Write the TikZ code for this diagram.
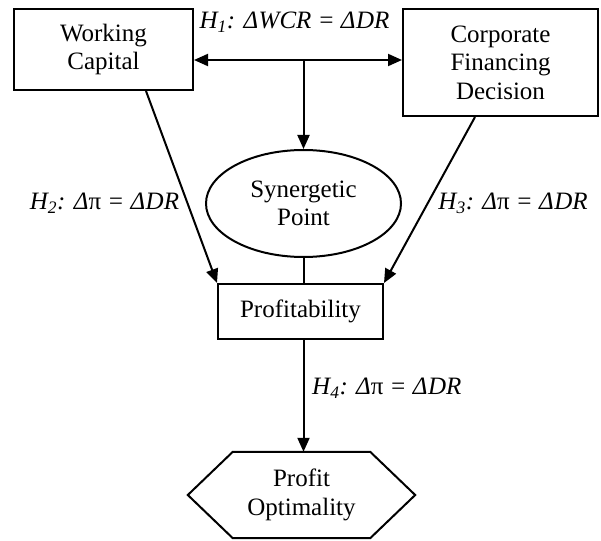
\documentclass[tikz,border=0pt]{standalone}
\usepackage{fontspec}
\setmainfont{Liberation Serif}
\newfontfamily\tnr{Liberation Serif}
\usetikzlibrary{arrows.meta,shapes.geometric,calc}
\tikzset{
  txt/.style={font=\tnr\fontsize{25}{28.5}\selectfont},
  box/.style={txt, draw, line width=2pt, inner sep=0pt, align=center},
  oval/.style={txt, ellipse, draw, line width=2pt, inner sep=0pt, align=center},
  hexbox/.style={txt, inner sep=0pt, align=center},
  hyp/.style={inner sep=0pt, font=\tnr\fontsize{25}{28.5}\selectfont\itshape},
  conn/.style={line width=2pt},
  arr/.style={conn, -{Triangle[length=14pt,width=12pt]}},
  darr/.style={conn, {Triangle[length=14pt,width=12pt]}-{Triangle[length=14pt,width=12pt]}},
}
\begin{document}
\begin{tikzpicture}[x=1pt,y=-1pt]
\useasboundingbox (0,0) rectangle (601,540);
\node[box, minimum width=179pt, minimum height=81pt] (wc) at (103.5,49.5) {Working\\Capital};
\node[box, minimum width=195pt, minimum height=107pt] (cfd) at (500.5,62.5) {Corporate\\Financing\\Decision};
\node[oval, minimum width=195pt, minimum height=107pt] (sp) at (303.5,203.5) {Synergetic\\Point};
\node[box, minimum width=165pt, minimum height=55pt] (pr) at (300.5,311.5) {Profitability};
\node[hexbox, minimum width=227pt, minimum height=86pt] (po) at (301.5,495) {Profit\\Optimality};
\draw[conn, line join=miter] (po.west) -- ($(po.north west)+(45,0)$) -- ($(po.north east)+(-45,0)$) -- (po.east)
  -- ($(po.south east)+(-45,0)$) -- ($(po.south west)+(45,0)$) -- cycle;

\coordinate (j) at (303.5,60);
\draw[darr] (wc.east |- j) -- (cfd.west |- j);
\draw[arr] (j) -- (sp.north);
\draw[conn] (sp.south) -- (sp.south |- pr.north);
\draw[arr] ([xshift=42.5pt]wc.south) -- (pr.north west);
\draw[arr] ([xshift=-25.5pt]cfd.south) -- (pr.north east);
\draw[arr] (sp.south |- pr.south) -- (sp.south |- po.north);

\node[hyp] (h1) at (294.5,22) {H\textsubscript{1}: Δ\kern0.5ptWCR = Δ\kern0.5ptDR};
\node[hyp] (h2) at (104.5,203) {H\textsubscript{2}: Δ\textup{π} = Δ\kern0.5ptDR};
\node[hyp] (h3) at (513,203) {H\textsubscript{3}: Δ\textup{π} = Δ\kern0.5ptDR};
\node[hyp, anchor=west] (h4) at (312,388) {H\textsubscript{4}: Δ\textup{π} = Δ\kern0.5ptDR};
\end{tikzpicture}
\end{document}
